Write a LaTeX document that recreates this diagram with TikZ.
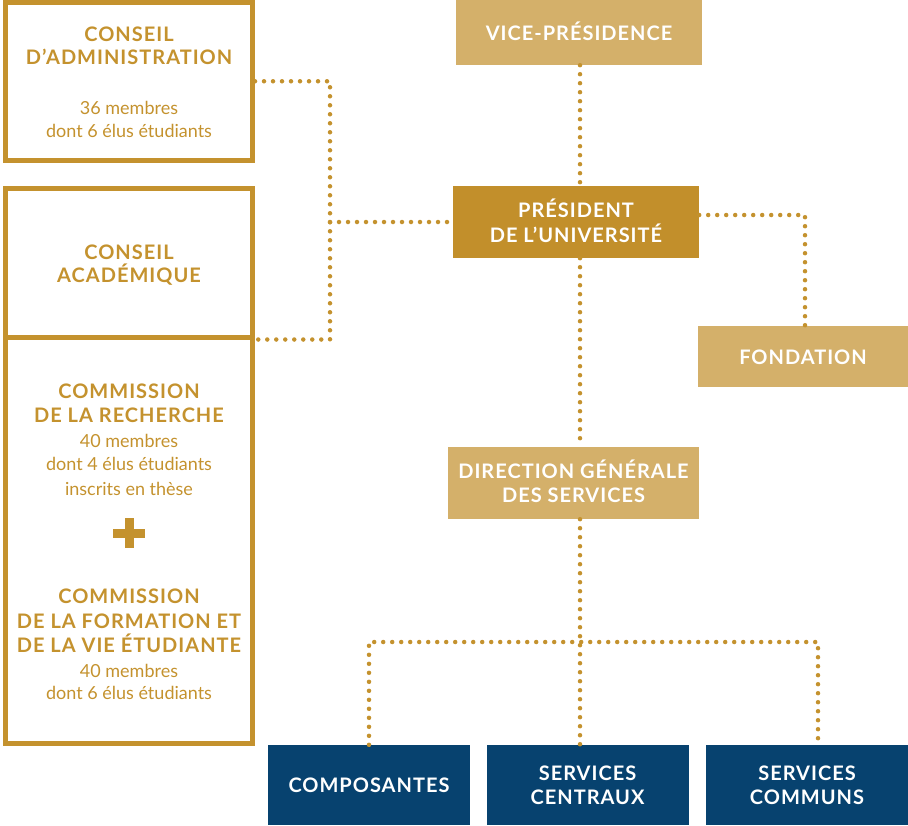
\documentclass[tikz,border=0pt]{standalone}
\usepackage{fontspec}
\setmainfont{Lato}
\usetikzlibrary{positioning}
\definecolor{orbase}{HTML}{C4922E}
\definecolor{orclair}{HTML}{D4B06A}
\definecolor{orfonce}{HTML}{C28F2B}
\definecolor{bleunuit}{HTML}{07426F}
\newcommand\txttitre{\bfseries\addfontfeatures{LetterSpace=5}\fontsize{20}{24.5}\selectfont}
\newcommand\txtcorps{\fontsize{18}{24.5}\selectfont}
\begin{document}
\begin{tikzpicture}[x=1pt,y=-1pt,
    cadre/.style={draw=orbase,line width=5pt,minimum width=247pt,inner sep=0pt},
    boite/.style={fill=#1,inner sep=0pt},
    titre/.style={anchor=base,inner sep=0pt,text=orbase,font=\txttitre},
    corps/.style={anchor=base,inner sep=0pt,text=orbase,font=\txtcorps},
    blanc/.style={anchor=base,inner sep=0pt,text=white,font=\txttitre},
    pointilles/.style={draw=orbase,line width=4.5pt,line cap=round,dash pattern=on 0pt off 9pt}]
  \useasboundingbox (0,0) rectangle (908,825);

  % conseils, colonne de gauche
  \node[cadre,minimum height=157.5pt] (admin) at (129,81.25) {};
  \node[cadre,minimum height=148.5pt] (acad) at (129,262.75) {};
  \node[cadre,minimum height=406pt] (commission) at (129,540) {};

  \node[titre] (admin1) at (129,41.5) {CONSEIL};
  \node[titre] (admin2) at (129,64) {D’ADMINISTRATION};
  \node[corps] (admin3) at (129,114.5) {36 membres};
  \node[corps] (admin4) at (129,137) {dont 6 élus étudiants};

  \node[titre] (acad1) at (129,259) {CONSEIL};
  \node[titre] (acad2) at (129,282.5) {ACADÉMIQUE};

  \node[titre] (rech1) at (129,398) {COMMISSION};
  \node[titre] (rech2) at (129,422) {DE LA RECHERCHE};
  \node[corps] (rech3) at (129,447) {40 membres};
  \node[corps] (rech4) at (129,470.5) {dont 4 élus étudiants};
  \node[corps] (rech5) at (129,495) {inscrits en thèse};
  \draw[orbase,line width=9pt] (113,533) -- (145,533) (129,518) -- (129,548);
  \node[titre] (form1) at (129,603) {COMMISSION};
  \node[titre] (form2) at (129,628) {DE LA FORMATION ET};
  \node[titre] (form3) at (129,652) {DE LA VIE ÉTUDIANTE};
  \node[corps] (form4) at (129,677) {40 membres};
  \node[corps] (form5) at (129,699.5) {dont 6 élus étudiants};

  % direction
  \node[boite=orclair,minimum width=246pt,minimum height=65pt] (vice) at (579,32.5) {};
  \node[blanc] at (579,40) {VICE-PRÉSIDENCE};
  \node[boite=orfonce,minimum width=246pt,minimum height=72pt] (pres) at (576,222) {};
  \node[blanc] at (576,217) {PRÉSIDENT};
  \node[blanc] at (576,242) {DE L’UNIVERSITÉ};
  \node[boite=orclair,minimum width=210pt,minimum height=61pt] (fond) at (803,356.5) {};
  \node[blanc] at (803,364) {FONDATION};
  \node[boite=orclair,minimum width=251pt,minimum height=72pt] (dgs) at (573.5,483) {};
  \node[blanc] at (573.5,478) {DIRECTION GÉNÉRALE};
  \node[blanc] at (573.5,502) {DES SERVICES};

  % services
  \node[boite=bleunuit,minimum width=202pt,minimum height=80pt] (compo) at (369,785) {};
  \node[blanc] at (369,792) {COMPOSANTES};
  \node[boite=bleunuit,minimum width=202pt,minimum height=80pt] (centraux) at (587.5,785) {};
  \node[blanc] at (587.5,780.5) {SERVICES};
  \node[blanc] at (587.5,804.5) {CENTRAUX};
  \node[boite=bleunuit,minimum width=202pt,minimum height=80pt] (communs) at (807,785) {};
  \node[blanc] at (807,780.5) {SERVICES};
  \node[blanc] at (807,804.5) {COMMUNS};

  % liaisons
  \coordinate (jonction) at (330,222);
  \coordinate (tronc) at (580,642);
  \draw[pointilles] (admin.east) -| (jonction) |- (acad.south east);
  \draw[pointilles] (jonction) -- (pres.west);
  \draw[pointilles] (vice.south -| tronc) -- (pres.north -| tronc);
  \draw[pointilles] (pres.south -| tronc) -- (dgs.north -| tronc);
  \draw[pointilles] ([yshift=7pt]pres.east) -| ([xshift=2pt]fond.north);
  \draw[pointilles] (dgs.south -| tronc) -- (centraux.north -| tronc);
  \draw[pointilles] (compo.north) |- (tronc) -| ([xshift=11pt]communs.north);
\end{tikzpicture}
\end{document}
